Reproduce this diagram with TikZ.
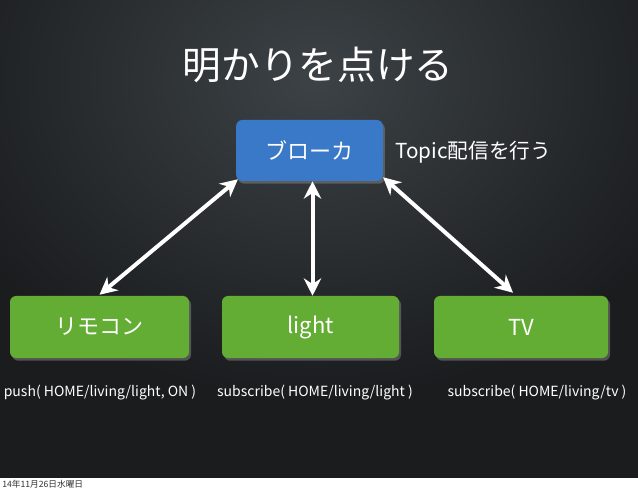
\documentclass[tikz,border=0pt]{standalone}
\usepackage{fontspec}
\setmainfont{Noto Sans CJK JP}
\usetikzlibrary{arrows.meta,shadows,calc}
\definecolor{bgdark}{HTML}{1A1C1E}
\definecolor{bgmid}{HTML}{3C4246}
\definecolor{brokerblue}{HTML}{3A78C8}
\definecolor{devgreen}{HTML}{64AD35}
\definecolor{datetext}{HTML}{333333}
\tikzset{
  box/.style={rounded corners=4.5pt, text=white, font=\fontsize{16.5pt}{18pt}\selectfont,
    inner sep=0pt, drop shadow={opacity=0.55, shadow xshift=1.5pt, shadow yshift=-2pt}},
  bluebox/.style={box, fill=brokerblue, minimum width=110pt, minimum height=45.75pt},
  greenbox/.style={box, fill=devgreen, minimum height=46.5pt},
  lbl/.style={text=white, font=\fontsize{10.5pt}{12pt}\selectfont, inner sep=0pt},
  link/.style={draw=white, line width=3pt, {Stealth[length=13pt,width=13pt]}-{Stealth[length=13pt,width=13pt]}}
}
\begin{document}
\begin{tikzpicture}[x=0.75pt,y=-0.75pt]
\useasboundingbox (0,0) rectangle (638,491);
\fill[white] (0,0) rectangle (638,491);
\fill[bgdark] (0,0) rectangle (638,478);
\begin{scope}
\clip (0,0) rectangle (638,478);
\shade[inner color=bgmid, outer color=bgdark] (316,80) ellipse [x radius=400, y radius=320];
\end{scope}
\node[text=white, font=\fontsize{29pt}{32pt}\selectfont, inner sep=0pt] (title) at (318,65) {明かりを点ける};
\node[bluebox] (b) at (309.5,150.5) {ブローカ};
\node[lbl, anchor=west, font=\fontsize{15.5pt}{18pt}\selectfont] (topic) at (395,152) {Topic配信を行う};
\node[greenbox, minimum width=134.25pt] (r) at (99.5,327) {リモコン};
\node[greenbox, minimum width=132.75pt] (l) at (310.5,327) {light};
\node[greenbox, minimum width=130.5pt] (t) at (521,327) {TV};
\node[lbl] (rl) at (100,393) {push( HOME/living/light, ON )};
\node[lbl] (ll) at (315,393) {subscribe( HOME/living/light )};
\node[lbl] (tl) at (537,393) {subscribe( HOME/living/tv )};
\node[anchor=west, text=datetext, font=\fontsize{6.5pt}{8pt}\selectfont, inner sep=0pt] (date) at (2,484.5) {14年11月26日水曜日};
\draw[link] ($(b.south west)+(2,-2)$) -- ($(r.north)+(0,-1)$);
\draw[link] ($(b.south)+(3,0)$) -- ($(l.north)+(2,0)$);
\draw[link] ($(b.south east)+(0,-4)$) -- ($(t.north)+(-8,-3)$);
\end{tikzpicture}
\end{document}
